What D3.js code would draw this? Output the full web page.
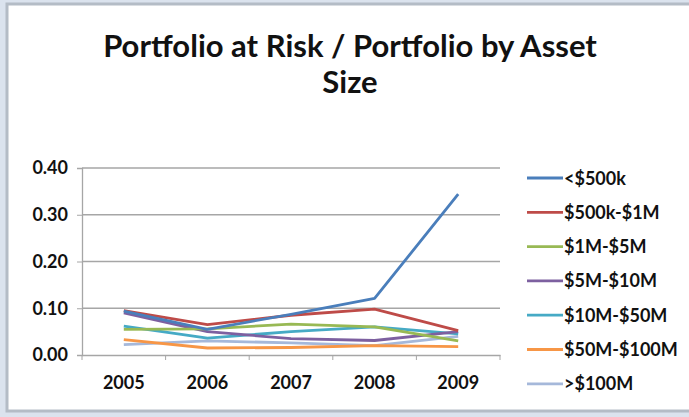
<!DOCTYPE html>
<html>
<head>
<meta charset="utf-8">
<script src="https://cdn.jsdelivr.net/npm/d3@7"></script>
<style>
  body { margin: 0; background: #dbe3ee; }
  #chart { width: 689px; height: 417px; }
  text { font-family: Lato, "Open Sans", sans-serif; font-weight: bold; fill: #111; }
</style>
</head>
<body>
<div id="chart"></div>
<script>
(function(){

  let width = 689;
  let height = 417;

  // data
  const years = ["2005", "2006", "2007", "2008", "2009"];
  const seriesNames = ["<$500k", "$500k-$1M", "$1M-$5M", "$5M-$10M", "$10M-$50M", "$50M-$100M", ">$100M"];
  const seriesColors = ["#4a7ebb", "#be4b48", "#98b954", "#7d60a0", "#46aac5", "#f79646", "#a5b8da"];
  const sub500k   = [0.094, 0.055, 0.087, 0.121, 0.344];
  const k500to1M  = [0.095, 0.065, 0.085, 0.098, 0.052];
  const m1to5     = [0.055, 0.056, 0.066, 0.060, 0.030];
  const m5to10    = [0.090, 0.050, 0.035, 0.031, 0.050];
  const m10to50   = [0.062, 0.036, 0.050, 0.060, 0.045];
  const m50to100  = [0.033, 0.015, 0.016, 0.020, 0.018];
  const over100M  = [0.022, 0.030, 0.026, 0.020, 0.040];
  const yTicks = [0, 0.1, 0.2, 0.3, 0.4];

  const allSeries = [sub500k, k500to1M, m1to5, m5to10, m10to50, m50to100, over100M];

  let svg = d3.select('#chart')
            .append("svg")
            .attr("width", width)
            .attr("height", height);

  // chart frame (grey border like the office chart area)
  svg.append("rect")
    .attr("x", 7).attr("y", 4)
    .attr("width", 690).attr("height", 407)
    .attr("fill", "#fff")
    .attr("stroke", "#b4bcc6")
    .attr("stroke-width", 3);

  // title
  svg.append("text")
    .attr("x", 350).attr("y", 57)
    .attr("text-anchor", "middle")
    .style("font-size", "31px")
    .text("Portfolio at Risk / Portfolio by Asset");
  svg.append("text")
    .attr("x", 350).attr("y", 93)
    .attr("text-anchor", "middle")
    .style("font-size", "31px")
    .text("Size");

  let margin = {left: 82, right: 189, top: 168, bottom: 62};
  let x = d3.scaleBand().domain(years).range([margin.left, width - margin.right]);
  let y = d3.scaleLinear().domain([0, 0.4]).range([height - margin.bottom, margin.top]);

  // gridlines
  svg.append("g")
    .selectAll("line")
    .data(yTicks.slice(1))
    .enter().append("line")
    .attr("x1", margin.left).attr("x2", width - margin.right)
    .attr("y1", d => y(d)).attr("y2", d => y(d))
    .attr("stroke", "#a6a6a6")
    .attr("stroke-width", 1.3);

  // y axis
  let yAxis = svg.append("g")
    .attr("transform", "translate(" + margin.left + ",0)")
    .call(d3.axisLeft(y).tickValues(yTicks).tickFormat(d3.format(".2f")).tickSize(5).tickPadding(9));
  yAxis.select(".domain").attr("stroke", "#a6a6a6").attr("stroke-width", 1.3);
  yAxis.selectAll(".tick line").attr("stroke", "#a6a6a6");
  yAxis.selectAll("text").style("font-size", "18px").attr("fill", "#111");

  // x axis
  let xAxis = svg.append("g")
    .attr("transform", "translate(0," + y(0) + ")")
    .call(d3.axisBottom(x).tickSize(0).tickPadding(21));
  xAxis.select(".domain").attr("stroke", "#a6a6a6").attr("stroke-width", 1.3);
  xAxis.selectAll("text").style("font-size", "18px").attr("fill", "#111");
  // category separator ticks
  xAxis.selectAll(".sep")
    .data(years.concat(["end"]))
    .enter().append("line")
    .attr("class", "sep")
    .attr("x1", (d, i) => margin.left + i * x.bandwidth())
    .attr("x2", (d, i) => margin.left + i * x.bandwidth())
    .attr("y1", 0).attr("y2", 5)
    .attr("stroke", "#a6a6a6");

  let line = d3.line()
    .x((d, i) => x(years[i]) + x.bandwidth() / 2)
    .y(d => y(d));

  // draw lines back to front so the first series sits on top
  let order = d3.range(allSeries.length).reverse();
  svg.append("g")
    .selectAll("path")
    .data(order)
    .enter().append("path")
    .attr("d", i => line(allSeries[i]))
    .attr("fill", "none")
    .attr("stroke", i => seriesColors[i])
    .attr("stroke-width", 2.8)
    .attr("stroke-linejoin", "round");

  // legend
  let legend = svg.append("g")
    .selectAll("g")
    .data(seriesNames)
    .enter().append("g")
    .attr("transform", (d, i) => "translate(527," + (178 + i * 34.3) + ")");
  legend.append("line")
    .attr("x1", 0).attr("x2", 36)
    .attr("stroke", (d, i) => seriesColors[i])
    .attr("stroke-width", 2.8);
  legend.append("text")
    .attr("x", 37).attr("y", 6.5)
    .style("font-size", "18px")
    .text(d => d);

})();
</script>
</body>
</html>
